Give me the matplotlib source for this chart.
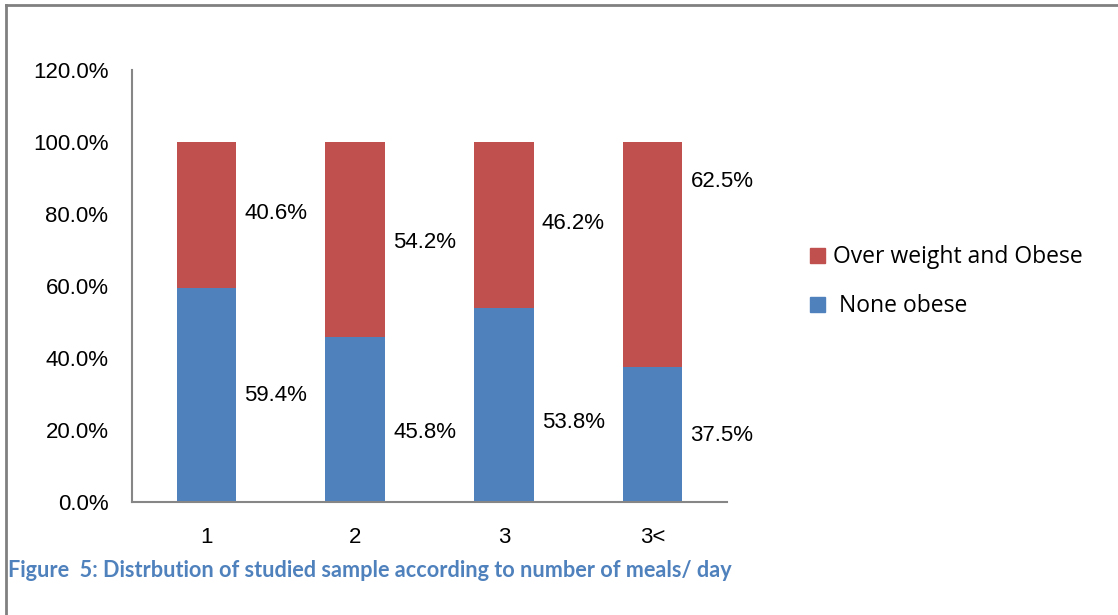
import matplotlib
matplotlib.use("Agg")
import matplotlib.pyplot as plt
from matplotlib.lines import Line2D
from matplotlib.patches import Patch

categories = ["1", "2", "3", "3<"]
none_obese = [59.4, 45.8, 53.8, 37.5]
over_weight = [40.6, 54.2, 46.2, 62.5]
y_ticks = [0, 20, 40, 60, 80, 100, 120]

# vertical placement of the value labels (in axis units)
none_label_y = [29.7, 19.2, 22.0, 18.5]
over_label_y = [80.0, 72.0, 77.5, 89.0]

blue = "#4F81BD"
red = "#C0504D"
axis_grey = "#868686"

fig = plt.figure(figsize=(11.18, 6.15), dpi=100)
ax = fig.add_axes([0.1181, 0.1837, 0.5322, 0.7025])

x = range(len(categories))
width = 0.40
ax.bar(x, none_obese, width, color=blue, label=" None obese")
ax.bar(x, over_weight, width, bottom=none_obese, color=red, label="Over weight and Obese")

for i in x:
    ax.text(i + width / 2 + 0.055, none_label_y[i], f"{none_obese[i]:.1f}%",
            ha="left", va="center", fontsize=16, family="Liberation Sans")
    ax.text(i + width / 2 + 0.055, over_label_y[i], f"{over_weight[i]:.1f}%",
            ha="left", va="center", fontsize=16, family="Liberation Sans")

ax.set_xlim(-0.5, len(categories) - 0.5)
ax.set_ylim(0, 120)
ax.set_yticks(y_ticks)
ax.set_yticklabels([f"{v:.1f}%" for v in y_ticks], fontsize=16, family="Liberation Sans")
ax.set_xticks(list(x))
ax.set_xticklabels(categories, fontsize=16, family="Liberation Sans")
ax.tick_params(axis="both", length=0)
ax.tick_params(axis="y", pad=17)
ax.tick_params(axis="x", pad=18)
for side in ("top", "right"):
    ax.spines[side].set_visible(False)
for side in ("left", "bottom"):
    ax.spines[side].set_color(axis_grey)
    ax.spines[side].set_linewidth(1.5)

handles = [Patch(color=red), Patch(color=blue)]
labels = ["Over weight and Obese", " None obese"]
fig.legend(handles, labels, loc="upper left", bbox_to_anchor=(0.708, 0.631),
           frameon=False, prop={"family": "Open Sans", "size": 16.5},
           handlelength=0.65, handleheight=0.65, handletextpad=0.35, labelspacing=1.1,
           borderpad=0.3)

fig.text(0.007, 0.073, "Figure  5: Distrbution of studied sample according to number of meals/ day",
         color="#4F81BD", fontsize=15.6, fontweight="bold",
         family=["Lato", "DejaVu Sans"], ha="left", va="center")

# outer frame (top and left edges)
fig.add_artist(Line2D([0.0055, 1.0], [0.9915, 0.9915], color="#808080", lw=2,
                      transform=fig.transFigure))
fig.add_artist(Line2D([0.0055, 0.0055], [0.0, 0.9915], color="#808080", lw=2,
                      transform=fig.transFigure))

fig.savefig("out.png", dpi=100)
